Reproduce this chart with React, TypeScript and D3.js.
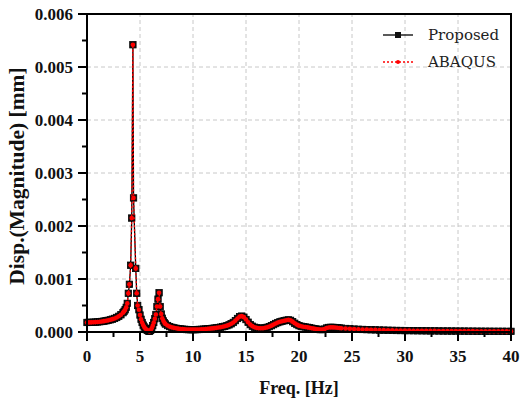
import React from "react";
import * as d3 from "d3";

const freqHz = [
  0.0, 0.2, 0.4, 0.6, 0.8, 1.0, 1.2, 1.4, 1.6, 1.8, 2.0, 2.2, 2.4, 2.6, 2.8, 3.0, 3.2, 3.4, 3.5, 3.6, 3.7, 3.8, 3.9,
  4.0, 4.12, 4.22, 4.33, 4.39, 4.6, 4.69, 4.78, 4.9, 5.0, 5.1, 5.2, 5.3, 5.4, 5.5, 5.6, 5.7, 5.8, 5.9, 6.0, 6.1, 6.2,
  6.3, 6.4, 6.5, 6.6, 6.7, 6.8, 6.9, 7.0, 7.1, 7.2, 7.3, 7.4, 7.6, 7.8, 8.0, 8.2, 8.4, 8.6, 8.8, 9.0, 9.2, 9.4, 9.6,
  9.8, 10.0, 10.2, 10.4, 10.6, 10.8, 11.0, 11.2, 11.4, 11.6, 11.8, 12.0, 12.2, 12.4, 12.6, 12.8, 13.0, 13.2, 13.4,
  13.6, 13.8, 14.0, 14.2, 14.4, 14.6, 14.8, 15.0, 15.2, 15.4, 15.6, 15.8, 16.0, 16.2, 16.4, 16.6, 16.8, 17.0, 17.2,
  17.4, 17.6, 17.8, 18.0, 18.2, 18.4, 18.6, 18.8, 19.0, 19.2, 19.4, 19.6, 19.8, 20.0, 20.2, 20.4, 20.6, 20.8, 21.0,
  21.2, 21.4, 21.6, 21.8, 22.0, 22.2, 22.4, 22.6, 22.8, 23.0, 23.2, 23.4, 23.6, 23.8, 24.0, 24.4, 24.8, 25.2, 25.6,
  26.0, 26.4, 26.8, 27.2, 27.6, 28.0, 28.4, 28.8, 29.2, 29.6, 30.0, 30.4, 30.8, 31.2, 31.6, 32.0, 32.4, 32.8, 33.2,
  33.6, 34.0, 34.4, 34.8, 35.2, 35.6, 36.0, 36.4, 36.8, 37.2, 37.6, 38.0, 38.4, 38.8, 39.2, 39.6, 40.0,
];

const proposedDisp = [
  0.00018, 0.000181, 0.000182, 0.000184, 0.000187, 0.00019, 0.000194, 0.000199, 0.000205, 0.000212, 0.00022,
  0.00023, 0.000242, 0.000256, 0.000274, 0.000296, 0.000325, 0.000365, 0.00039, 0.00042, 0.000465, 0.00054,
  0.00073, 0.0009, 0.00126, 0.00215, 0.00542, 0.00253, 0.0012, 0.00073, 0.0005, 0.00042, 0.00032, 0.00024, 0.00018,
  0.00013, 0.000095, 0.000065, 0.000045, 0.00003, 0.000018, 0.000012, 0.00003, 0.00007, 0.00012, 0.00018, 0.00025,
  0.00033, 0.00048, 0.00062, 0.00074, 0.00048, 0.00034, 0.00026, 0.00021, 0.000175, 0.00015, 0.000122, 0.000102,
  0.000088, 0.000078, 0.00007, 0.000063, 0.000058, 0.000054, 0.00005, 0.000047, 0.000045, 0.000044, 0.000044,
  0.000045, 0.000046, 0.000048, 0.00005, 0.000053, 0.000056, 0.00006, 0.000064, 0.000068, 0.000073, 0.000078,
  0.000084, 0.000091, 0.000099, 0.000108, 0.00012, 0.000135, 0.000155, 0.00018, 0.000215, 0.000255, 0.00029,
  0.0003, 0.00028, 0.000235, 0.000185, 0.00014, 0.00011, 0.00009, 0.000078, 0.000072, 0.00007, 0.000072, 0.000078,
  0.000088, 0.000102, 0.00012, 0.00014, 0.00016, 0.000178, 0.000192, 0.000203, 0.000212, 0.000222, 0.000228,
  0.00022, 0.000195, 0.000165, 0.00014, 0.00012, 0.000108, 0.0001, 0.000094, 0.000088, 0.00008, 0.000072, 0.000064,
  0.000057, 0.00005, 0.000045, 0.000046, 0.000055, 0.000075, 0.000085, 0.000088, 0.000087, 0.000084, 0.00008,
  0.000076, 0.000072, 0.000066, 0.00006, 0.000055, 0.000051, 0.000048, 0.000045, 0.000042, 0.00004, 0.000037,
  0.000035, 0.000033, 0.000031, 0.000029, 0.000028, 0.000027, 0.000026, 0.000025, 0.000024, 0.000023, 0.000022,
  0.000021, 0.000021, 0.00002, 0.000019, 0.000019, 0.000018, 0.000018, 0.000017, 0.000017, 0.000016, 0.000016,
  0.000015, 0.000015, 0.000014, 0.000014, 0.000013, 0.000013, 0.000013, 0.000012, 0.000012,
];

const abaqusDisp = [...proposedDisp];

const xTicks = [0, 5, 10, 15, 20, 25, 30, 35, 40];
const yTicks = [0, 0.001, 0.002, 0.003, 0.004, 0.005, 0.006];
const seriesNames = ["Proposed", "ABAQUS"];

const W = 520;
const H = 401;
const M = { left: 87, right: 9, top: 14, bottom: 69 };

export default function App() {
  const x = d3.scaleLinear().domain([0, 40]).range([M.left, W - M.right]);
  const y = d3.scaleLinear().domain([0, 0.006]).range([H - M.bottom, M.top]);
  const n = Math.min(freqHz.length, proposedDisp.length, abaqusDisp.length);
  const pts = freqHz.slice(0, n).map((f, i) => ({ f, p: proposedDisp[i], a: abaqusDisp[i] }));
  const lineP = d3.line<any>().x((d) => x(d.f)).y((d) => y(d.p));
  const lineA = d3.line<any>().x((d) => x(d.f)).y((d) => y(d.a));
  const x0 = M.left;
  const x1 = W - M.right;
  const y0 = H - M.bottom;
  const y1 = M.top;
  const xMinor = d3.range(2.5, 40, 5);
  const yMinor = d3.range(0.0005, 0.006, 0.001);
  const tickFont = "'Liberation Serif', 'Times New Roman', serif";
  const legendFont = "'DejaVu Serif', serif";
  const titleFont = "'Liberation Serif', 'Times New Roman', serif";
  return (
    <svg width={W} height={H} style={{ position: "absolute", left: 0, top: 0, background: "#fff" }}>
      <rect x={0} y={0} width={W} height={H} fill="#fff" />
      <g stroke="#c8c8c8" strokeWidth={1} strokeDasharray="4,3">
        {xTicks.slice(1, -1).map((t) => (
          <line key={"gx" + t} x1={x(t)} x2={x(t)} y1={y0} y2={y1} />
        ))}
        {yTicks.slice(1, -1).map((t) => (
          <line key={"gy" + t} x1={x0} x2={x1} y1={y(t)} y2={y(t)} />
        ))}
      </g>
      <path d={lineP(pts) || ""} fill="none" stroke="#000" strokeWidth={1.3} />
      {pts.map((d, i) => (
        <rect key={"sq" + i} x={x(d.f) - 3.2} y={y(d.p) - 3.2} width={6.4} height={6.4} fill="#111" stroke="#000" strokeWidth={0.8} />
      ))}
      <path d={lineA(pts) || ""} fill="none" stroke="#ff0000" strokeWidth={1.3} strokeDasharray="2,2" />
      {pts.map((d, i) => (
        <circle key={"c" + i} cx={x(d.f)} cy={y(d.a)} r={2.3} fill="#ff0000" />
      ))}
      <rect x={x0} y={y1} width={x1 - x0} height={y0 - y1} fill="none" stroke="#000" strokeWidth={2} />
      <g stroke="#000" strokeWidth={2}>
        {xTicks.map((t) => (
          <line key={"xt" + t} x1={x(t)} x2={x(t)} y1={y0} y2={y0 + 9} />
        ))}
        {xMinor.map((t) => (
          <line key={"xm" + t} x1={x(t)} x2={x(t)} y1={y0} y2={y0 + 5} />
        ))}
        {yTicks.map((t) => (
          <line key={"yt" + t} x1={x0 - 9} x2={x0} y1={y(t)} y2={y(t)} />
        ))}
        {yMinor.map((t) => (
          <line key={"ym" + t} x1={x0 - 5} x2={x0} y1={y(t)} y2={y(t)} />
        ))}
      </g>
      <g fontFamily={tickFont} fontWeight="bold" fontSize={17} fill="#111">
        {xTicks.map((t) => (
          <text key={"xl" + t} x={x(t)} y={y0 + 30} textAnchor="middle">
            {t}
          </text>
        ))}
        {yTicks.map((t) => (
          <text key={"yl" + t} x={x0 - 14} y={y(t) + 5.5} textAnchor="end">
            {t.toFixed(3)}
          </text>
        ))}
      </g>
      <text x={(x0 + x1) / 2} y={394} textAnchor="middle" fontFamily={titleFont} fontWeight="bold" fontSize={18} fill="#111">
        Freq. [Hz]
      </text>
      <text
        transform={`translate(24,176) rotate(-90)`}
        textAnchor="middle"
        fontFamily={titleFont}
        fontWeight="bold"
        fontSize={21.5}
        fill="#111"
      >
        Disp.(Magnitude) [mm]
      </text>
      <g>
        <line x1={383} x2={413} y1={35} y2={35} stroke="#000" strokeWidth={1.3} />
        <rect x={395} y={32} width={6} height={6} fill="#111" />
        <text x={428} y={40} fontFamily={legendFont} fontSize={15} fill="#222">
          {seriesNames[0]}
        </text>
        <line x1={383} x2={413} y1={62} y2={62} stroke="#ff0000" strokeWidth={1.3} strokeDasharray="2,2" />
        <circle cx={398} cy={62} r={2} fill="#ff0000" />
        <text x={428} y={67} fontFamily={legendFont} fontSize={15} fill="#222">
          {seriesNames[1]}
        </text>
      </g>
    </svg>
  );
}
